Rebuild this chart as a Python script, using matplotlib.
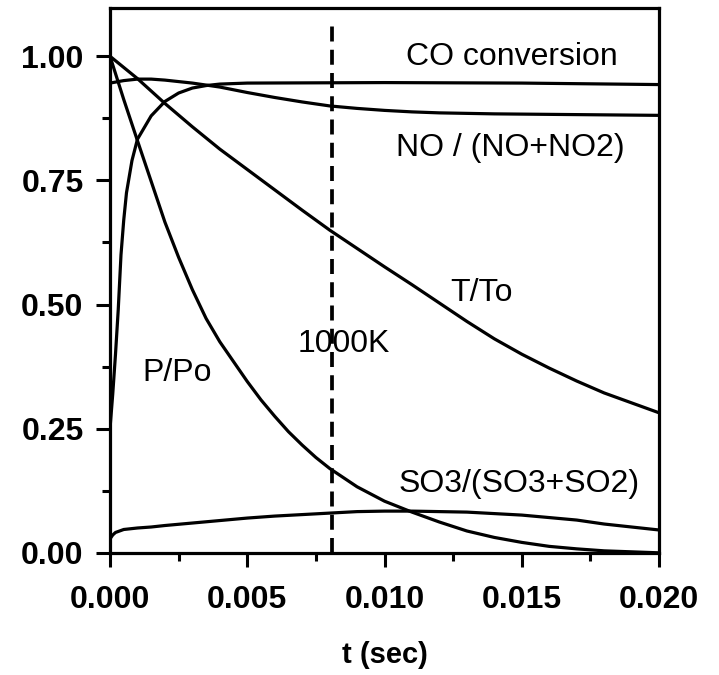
import matplotlib
matplotlib.use("Agg")
import matplotlib.pyplot as plt
from matplotlib.ticker import MultipleLocator, FormatStrFormatter

plt.rcParams['font.family'] = ['Liberation Sans', 'DejaVu Sans']

# ---- data ----
t_T = [0, 0.001, 0.002, 0.003, 0.004, 0.005, 0.006, 0.007, 0.008, 0.009, 0.010,
       0.011, 0.012, 0.013, 0.014, 0.015, 0.016, 0.017, 0.018, 0.019, 0.020]
T_To = [1.000, 0.955, 0.905, 0.858, 0.813, 0.772, 0.731, 0.690, 0.650, 0.613, 0.576,
        0.540, 0.503, 0.466, 0.431, 0.400, 0.372, 0.346, 0.322, 0.302, 0.282]

t_P = [0, 0.0005, 0.001, 0.0015, 0.002, 0.0025, 0.003, 0.0035, 0.004, 0.0045, 0.005,
       0.0055, 0.006, 0.0065, 0.007, 0.0075, 0.008, 0.009, 0.010, 0.011, 0.012,
       0.013, 0.014, 0.015, 0.016, 0.017, 0.018, 0.019, 0.020]
P_Po = [1.000, 0.913, 0.830, 0.748, 0.666, 0.595, 0.530, 0.472, 0.425, 0.385, 0.345,
        0.308, 0.275, 0.244, 0.217, 0.192, 0.170, 0.133, 0.104, 0.082, 0.062,
        0.044, 0.031, 0.021, 0.013, 0.008, 0.004, 0.002, 0.000]

t_CO = [0, 0.0001, 0.0002, 0.0003, 0.0004, 0.0005, 0.0006, 0.0008, 0.001, 0.0015,
        0.002, 0.0025, 0.003, 0.0035, 0.004, 0.005, 0.010, 0.015, 0.020]
CO_conv = [0.25, 0.32, 0.40, 0.49, 0.60, 0.67, 0.725, 0.79, 0.833, 0.880,
           0.909, 0.926, 0.936, 0.941, 0.944, 0.946, 0.947, 0.946, 0.943]

t_NO = [0, 0.0005, 0.001, 0.0015, 0.002, 0.003, 0.004, 0.005, 0.006, 0.007, 0.008,
        0.009, 0.010, 0.011, 0.012, 0.013, 0.014, 0.016, 0.018, 0.020]
NO_ratio = [0.946, 0.951, 0.954, 0.954, 0.952, 0.946, 0.938, 0.927, 0.917, 0.908, 0.900,
            0.895, 0.891, 0.888, 0.886, 0.885, 0.884, 0.883, 0.882, 0.881]

t_SO3 = [0, 0.0001, 0.0002, 0.0005, 0.001, 0.0015, 0.002, 0.003, 0.004, 0.005, 0.006,
         0.007, 0.008, 0.009, 0.010, 0.011, 0.012, 0.013, 0.014, 0.015, 0.016,
         0.017, 0.018, 0.019, 0.020]
SO3_ratio = [0.028, 0.036, 0.041, 0.047, 0.050, 0.052, 0.055, 0.060, 0.065, 0.070, 0.074,
             0.077, 0.080, 0.083, 0.084, 0.084, 0.083, 0.082, 0.079, 0.076, 0.071,
             0.066, 0.058, 0.052, 0.046]

t_1000K = 0.0081
x_ticks = [0.000, 0.005, 0.010, 0.015, 0.020]
y_ticks = [0.00, 0.25, 0.50, 0.75, 1.00]

labels = ["CO conversion", "NO / (NO+NO2)", "T/To", "1000K", "P/Po", "SO3/(SO3+SO2)"]
label_t = [0.01465, 0.01457, 0.01355, 0.00852, 0.00244, 0.0149]
label_y = [0.998, 0.815, 0.523, 0.4205, 0.362, 0.139]

# ---- figure ----
fig = plt.figure(figsize=(7.19, 6.75), dpi=100)
ax = fig.add_axes([0.153, 0.181, 0.7636, 0.807])

lw = 2.3
for tx, yy in [(t_T, T_To), (t_P, P_Po), (t_CO, CO_conv), (t_NO, NO_ratio), (t_SO3, SO3_ratio)]:
    ax.plot(tx, yy, color='black', lw=lw, solid_capstyle='round', solid_joinstyle='round')

for s, tx, yy in zip(labels, label_t, label_y):
    ax.text(tx, yy, s, ha='center', va='center', fontsize=23, color='black')

ax.vlines(t_1000K, 0, 1.068, colors='black', linewidth=2.7, linestyles=(0, (4.0, 2.2)))

ax.set_xlim(0, 0.020)
ax.set_ylim(0, 1.097)
ax.set_xticks(x_ticks)
ax.set_yticks(y_ticks)
ax.xaxis.set_major_formatter(FormatStrFormatter('%.3f'))
ax.yaxis.set_major_formatter(FormatStrFormatter('%.2f'))
ax.xaxis.set_minor_locator(MultipleLocator(0.0025))
ax.yaxis.set_minor_locator(MultipleLocator(0.125))
ax.tick_params(axis='both', which='major', direction='out', length=10, width=2.2,
               labelsize=23)
ax.tick_params(axis='both', which='minor', direction='out', length=6, width=2.2)
ax.tick_params(axis='x', which='major', pad=13)
ax.tick_params(axis='y', which='major', pad=9)
for lab in ax.get_xticklabels() + ax.get_yticklabels():
    lab.set_fontweight('bold')
for sp in ax.spines.values():
    sp.set_linewidth(2.3)

ax.set_xlabel('t (sec)', fontsize=21, fontweight='bold', labelpad=19)

fig.savefig('out.png', dpi=100)
